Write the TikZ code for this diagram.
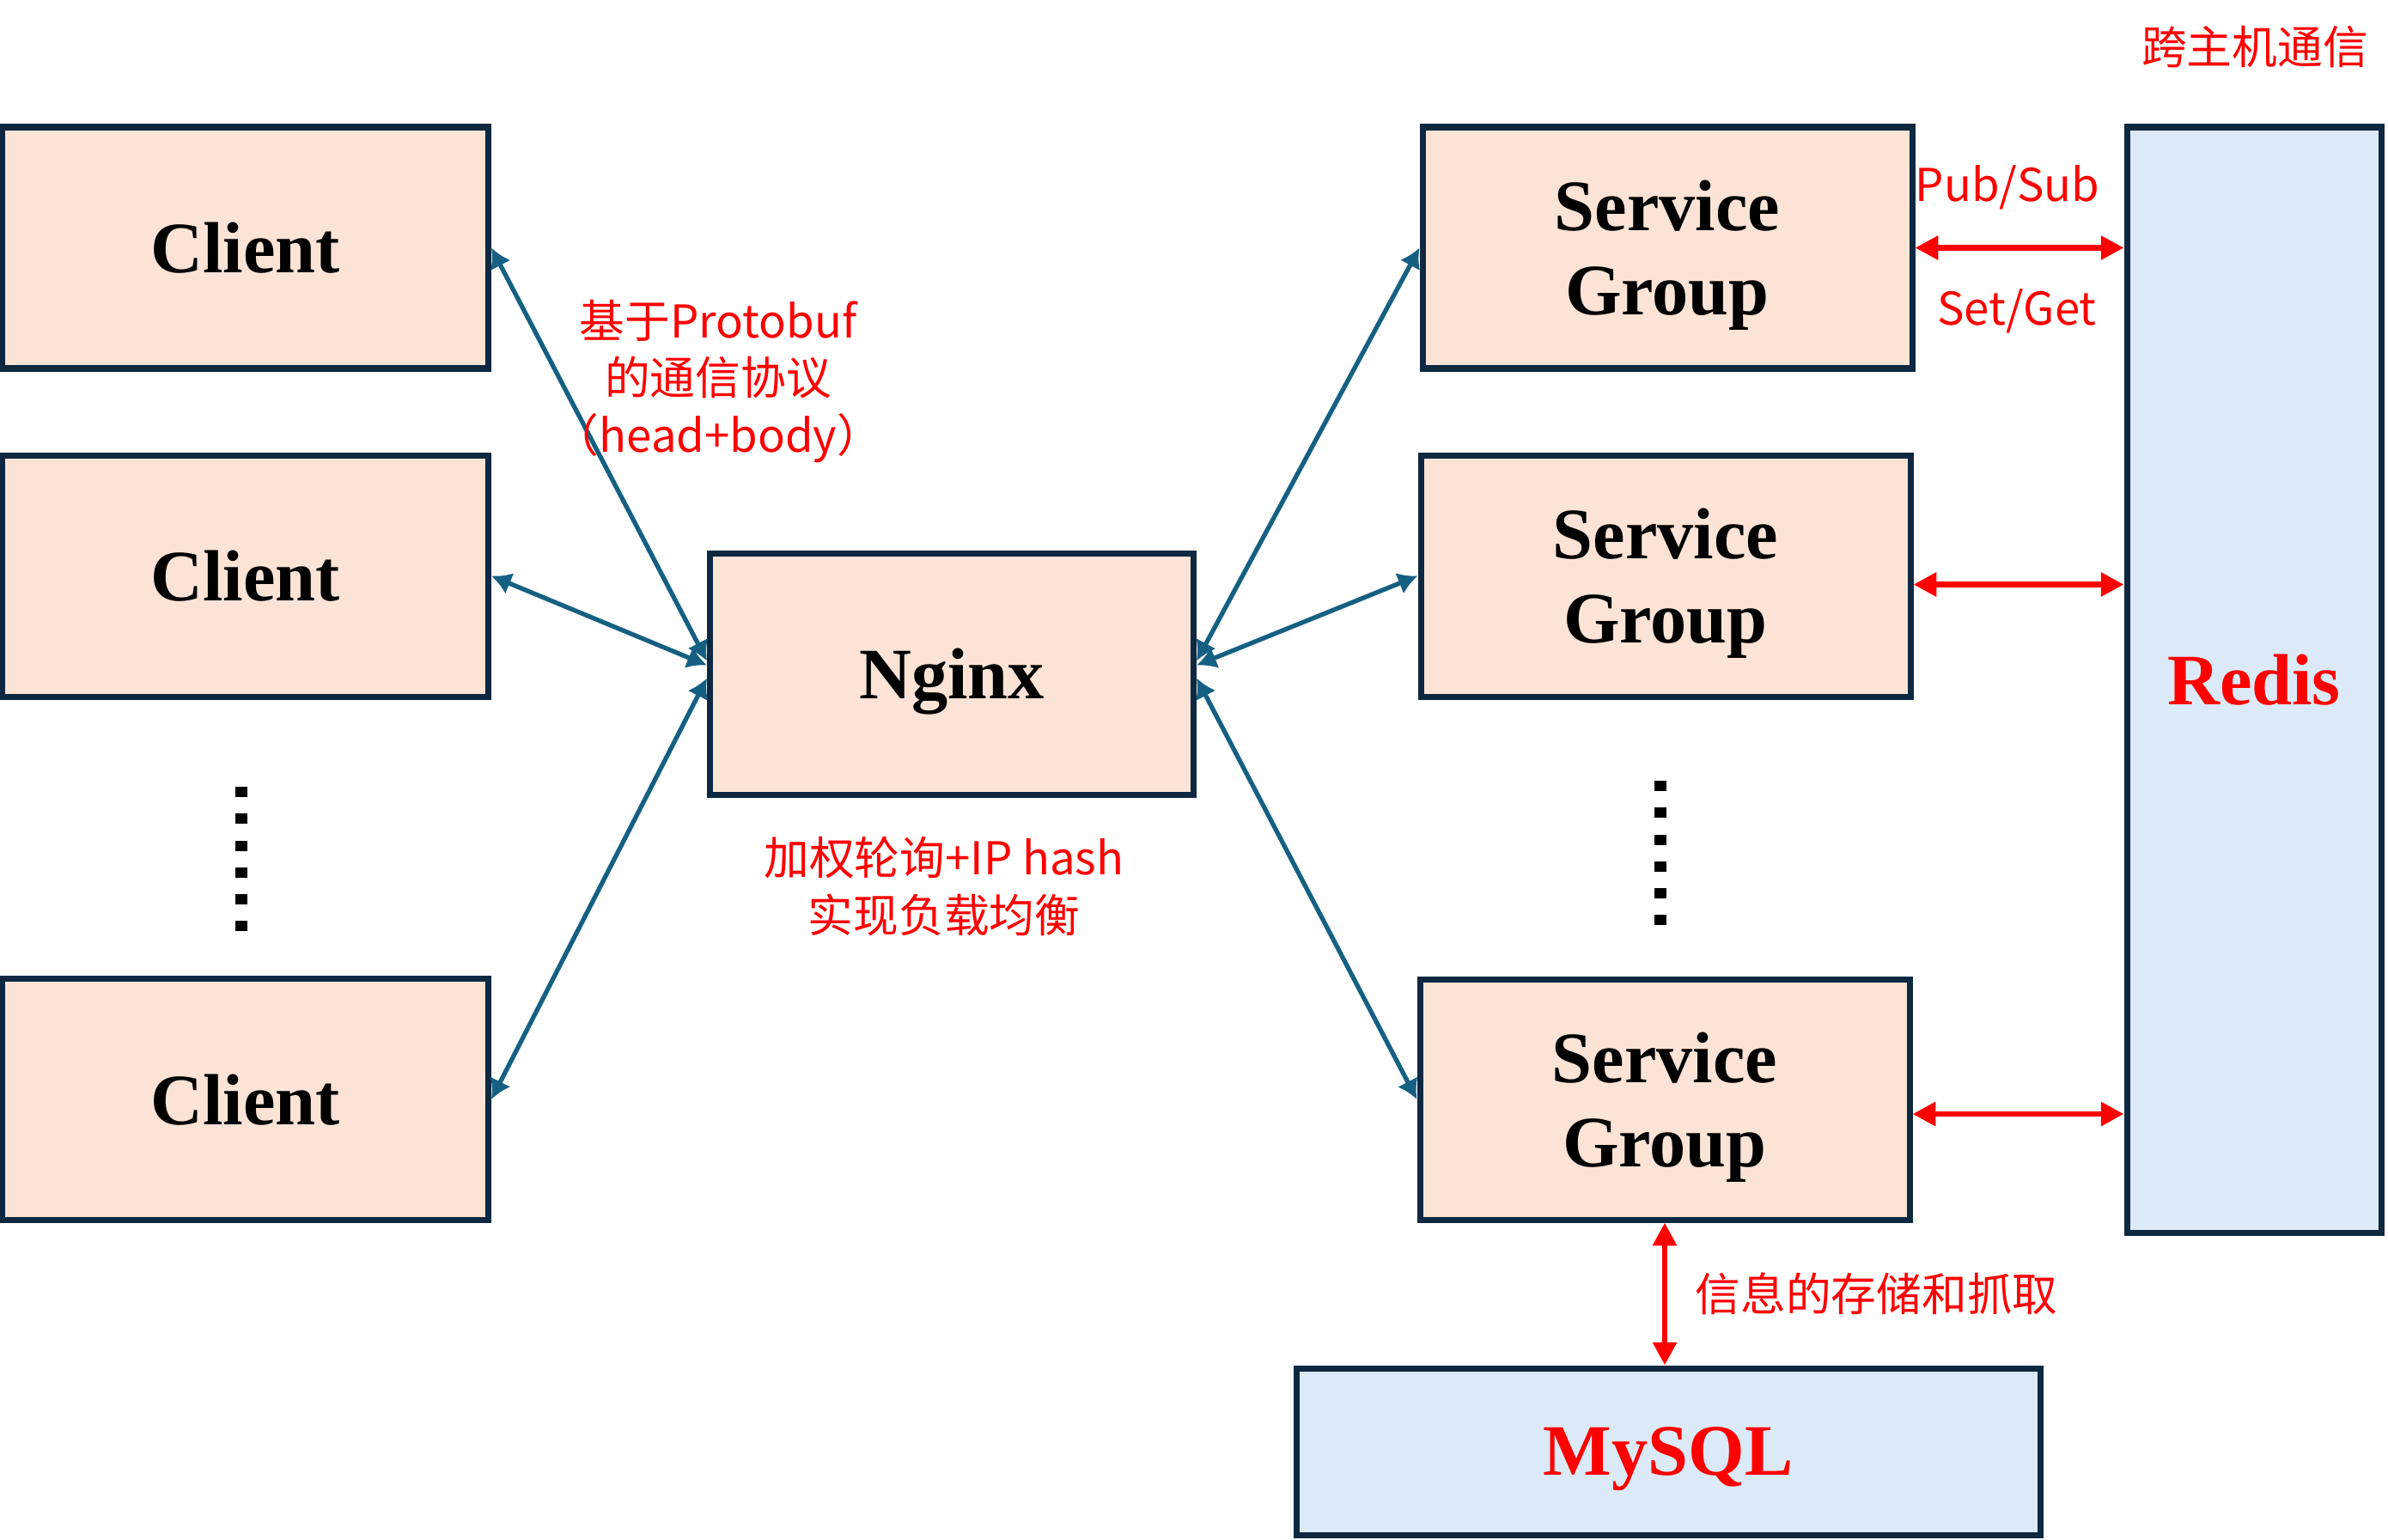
\documentclass[tikz,border=0pt]{standalone}
\usepackage{fontspec}
\setmainfont{Liberation Serif}
\newfontfamily\cjk{Noto Sans CJK SC}
\usetikzlibrary{arrows.meta,calc}
\definecolor{peach}{HTML}{FBE3D6}
\definecolor{paleblue}{HTML}{DCEAF7}
\definecolor{navy}{HTML}{0E2841}
\definecolor{linkblue}{HTML}{156082}
\begin{document}
\begin{tikzpicture}[x=1cm,y=-1cm]
	\tikzset{peachbox/.style={draw=navy,line width=2pt,fill=peach,inner sep=0pt,minimum width=5.66cm,minimum height=2.81cm,text depth=0pt,align=center,font=\fontsize{24}{28}\selectfont\bfseries}}
	\tikzset{bluebox/.style={peachbox,fill=paleblue,text=red}}
	\tikzset{bluelink/.style={draw=linkblue,line width=1.5pt,{Latex[length=6.5pt,width=7.5pt]}-{Latex[length=6.5pt,width=7.5pt]}}}
	\tikzset{redlink/.style={draw=red,line width=1.9pt,{Triangle[length=7.6pt,width=7.6pt]}-{Triangle[length=7.6pt,width=7.6pt]}}}
	\tikzset{note/.style={text=red,align=center,inner sep=0pt,font=\cjk\fontsize{15}{18.8}\selectfont}}
	\tikzset{dotline/.style={line width=4pt,dash pattern=on 3.4pt off 5.5pt}}
	\useasboundingbox (0,0) rectangle (27.8,17.92);
	% left side
	\node[peachbox] (client1) at (2.855,2.885) {Client};
	\node[peachbox] (client2) at (2.855,6.705) {Client};
	\node[peachbox] (client3) at (2.855,12.80) {Client};
	\draw[dotline] (2.81,9.16) -- (2.81,10.84);
	\node[peachbox,minimum width=5.63cm] (nginx) at (11.08,7.845) {Nginx};
	% right side
	\node[peachbox,minimum width=5.70cm] (group1) at (19.41,2.885) {Service\\Group};
	\node[peachbox,minimum width=5.70cm] (group2) at (19.39,6.705) {Service\\Group};
	\node[peachbox,minimum width=5.70cm,minimum height=2.80cm] (group3) at (19.38,12.80) {Service\\Group};
	\draw[dotline] (19.33,9.09) -- (19.33,10.77);
	\node[bluebox,minimum width=2.96cm,minimum height=12.87cm] (redis) at (26.24,7.915) {Redis};
	\node[bluebox,minimum width=8.66cm,minimum height=1.94cm] (mysql) at (19.42,16.90) {MySQL};
	% links
	\draw[bluelink] (client1.east) -- ([yshift=1.5mm]nginx.west);
	\draw[bluelink] (client2.east) -- ([yshift=1mm]nginx.west);
	\draw[bluelink] (client3.east) -- ([yshift=-0.5mm]nginx.west);
	\draw[bluelink] ([yshift=1.5mm]nginx.east) -- (group1.west);
	\draw[bluelink] ([yshift=1mm]nginx.east) -- (group2.west);
	\draw[bluelink] ([yshift=-0.5mm]nginx.east) -- (group3.west);
	\draw[redlink] (group1.east) -- (group1.east -| redis.west);
	\draw[redlink] ([yshift=-1mm]group2.east) -- ([yshift=-1mm]group2.east -| redis.west);
	\draw[redlink] ([yshift=-1.7mm]group3.east) -- ([yshift=-1.7mm]group3.east -| redis.west);
	\draw[redlink] (group3.south) -- (group3.south |- mysql.north);
	% labels
	\node[note] (proto) at (8.36,4.44) {基于Protobuf\\的通信协议\\（head+body）};
	\node[note] (balance) at (10.99,10.32) {加权轮询+IP hash\\实现负载均衡};
	\node[note] (pubsub) at (23.37,2.18) {Pub/Sub};
	\node[note] (setget) at (23.48,3.62) {Set/Get};
	\node[note] (cross) at (26.25,0.55) {跨主机通信};
	\node[note,anchor=west] (store) at (19.73,15.06) {信息的存储和抓取};
\end{tikzpicture}
\end{document}
